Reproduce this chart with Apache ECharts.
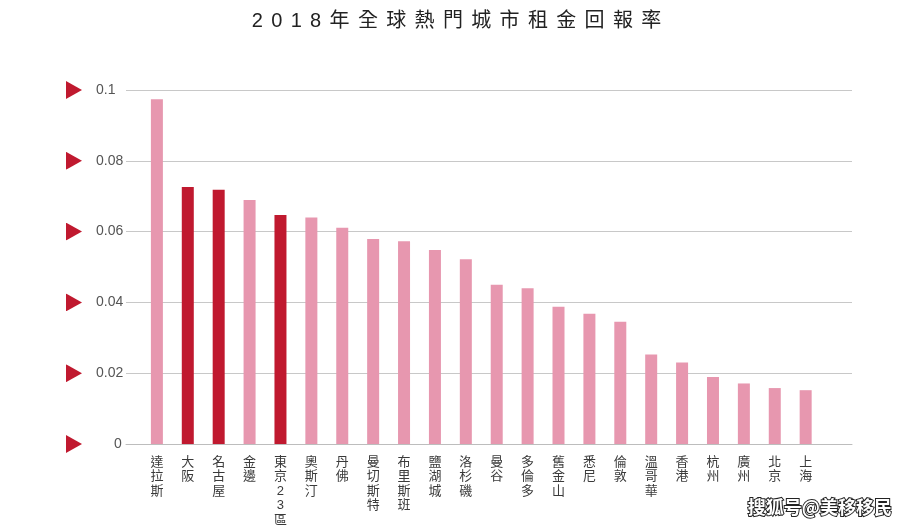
<!DOCTYPE html>
<html>
<head>
<meta charset="utf-8">
<style>
html,body{margin:0;padding:0;background:#fff;}
#chart{width:913px;height:531px;}
</style>
<script src="https://cdn.jsdelivr.net/npm/echarts@6/dist/echarts.min.js"></script>
</head>
<body>
<div id="chart"></div>
<script>
const chartTitle = '2018年全球熱門城市租金回報率';
const categories = ['達拉斯','大阪','名古屋','金邊','東京23區','奧斯汀','丹佛','曼切斯特','布里斯班','鹽湖城','洛杉磯','曼谷','多倫多','舊金山','悉尼','倫敦','溫哥華','香港','杭州','廣州','北京','上海'];
const yields = [0.0974,0.0726,0.0718,0.0689,0.0647,0.0640,0.0611,0.0579,0.0573,0.0548,0.0522,0.0450,0.0440,0.0388,0.0368,0.0345,0.0253,0.0230,0.0189,0.0171,0.0158,0.0152];
const japanCities = ['大阪','名古屋','東京23區'];
const watermark = '搜狐号@美移移民';

const FONT = "'Liberation Sans','Noto Sans CJK TC',sans-serif";
const PINK = '#E797AF';
const RED = '#C0192F';
const triSvg = 'data:image/svg+xml;charset=utf-8,' + encodeURIComponent(
  '<svg xmlns="http://www.w3.org/2000/svg" width="16" height="18" viewBox="0 0 16 18"><polygon points="0,0 16,9 0,18" fill="' + RED + '"/></svg>');
const triImg = new Image();
triImg.src = triSvg;

const chart = echarts.init(document.getElementById('chart'), null, {renderer: 'canvas'});

const barData = categories.map((c, i) => ({
  value: [i, yields[i]],
  itemStyle: {color: japanCities.indexOf(c) >= 0 ? RED : PINK}
}));

chart.setOption({
  backgroundColor: '#fff',
  animation: false,
  title: {
    text: chartTitle.split('').join('\u2004\u200A'),
    left: 'center',
    top: 6,
    textStyle: {fontFamily: FONT, fontSize: 20, fontWeight: 'normal', color: '#222'}
  },
  grid: {left: 126, right: 61, top: 90, bottom: 87, containLabel: false},
  xAxis: {
    type: 'value',
    min: -1,
    max: 22.5,
    interval: 1,
    splitLine: {show: false},
    axisTick: {show: false},
    axisLine: {show: true, lineStyle: {color: '#bdbdbd', width: 1}},
    axisLabel: {
      margin: 11,
      fontFamily: FONT,
      fontSize: 13,
      lineHeight: 14.5,
      color: '#3a3a3a',
      verticalAlign: 'top',
      formatter: function (v) {
        if (Math.abs(v - Math.round(v)) > 1e-6) return '';
        const i = Math.round(v);
        if (i < 0 || i >= categories.length) return '';
        return categories[i].split('').join('\n');
      }
    }
  },
  yAxis: [{
    type: 'value',
    min: 0,
    max: 0.1,
    interval: 0.02,
    position: 'left',
    axisLine: {show: false},
    axisTick: {show: false},
    splitLine: {show: true, lineStyle: {color: '#c8c8c8', width: 1}},
    axisLabel: {
      margin: 30,
      align: 'left',
      fontFamily: FONT,
      fontSize: 14,
      color: '#555',
      formatter: function (v) {
        if (v === 0) return '{z|0}';
        return String(+v.toFixed(2));
      },
      rich: {z: {fontFamily: FONT, fontSize: 14, color: '#555', padding: [0, 0, 0, 18]}}
    }
  }, {
    type: 'value',
    min: 0,
    max: 0.1,
    interval: 0.02,
    position: 'left',
    offset: 44,
    axisLine: {show: false},
    axisTick: {show: false},
    splitLine: {show: false},
    axisLabel: {
      margin: 0,
      align: 'right',
      verticalAlign: 'middle',
      formatter: function () { return '{tri| }'; },
      rich: {tri: {width: 16, height: 18, backgroundColor: {image: triSvg}}}
    }
  }],
  series: [{
    type: 'bar',
    yAxisIndex: 0,
    barWidth: 12,
    data: barData
  }],
  graphic: [{
    type: 'text',
    right: 20,
    bottom: 14,
    style: {
      text: watermark,
      font: "bold 18px 'Noto Sans CJK SC',sans-serif",
      fill: '#fff',
      stroke: '#222',
      lineWidth: 2
    }
  }]
});
triImg.onload = function () { chart.resize(); };
</script>
</body>
</html>
